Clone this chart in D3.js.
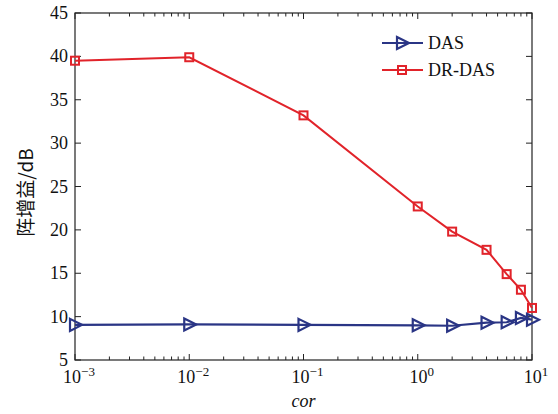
<!DOCTYPE html>
<html>
<head>
<meta charset="utf-8"/>
<script src="https://d3js.org/d3.v7.min.js"></script>
<style>
	body { margin: 0; background: #fff; }
	svg text { font-family: 'Liberation Serif', 'DejaVu Serif', serif; fill: #111; }
</style>
</head>
<body>
<svg id="chart" width="558" height="414"></svg>
<script>
// cor values (log axis)
var cor = [0.001, 0.01, 0.1, 1, 2, 4, 6, 8, 10];
// array gain, dB
var das = [9.05, 9.1, 9.05, 9.0, 8.95, 9.3, 9.35, 9.85, 9.65];
var drdas = [39.5, 39.9, 33.2, 22.7, 19.8, 17.7, 14.9, 13.1, 11.0];
var yTicks = [5, 10, 15, 20, 25, 30, 35, 40, 45];
var xTicks = [1e-3, 1e-2, 1e-1, 1, 10];
var xExp = ['\u22123', '\u22122', '\u22121', '0', '1'];

var m = {left: 75, right: 26, top: 13, bottom: 54};
var W = 558, H = 414;
var svg = d3.select('#chart');

var x = d3.scaleLog().domain([1e-3, 10]).range([m.left, W - m.right]);
var y = d3.scaleLinear().domain([5, 45]).range([H - m.bottom, m.top]);

var blue = '#2a3585', red = '#e1232a';

// frame
var g = svg.append('g');
g.append('rect')
	.attr('x', m.left).attr('y', m.top)
	.attr('width', W - m.left - m.right).attr('height', H - m.top - m.bottom)
	.attr('fill', 'none').attr('stroke', '#222').attr('stroke-width', 1.2);

// x ticks: major + minor on bottom and top, pointing in
var minor = [];
for (var e = -3; e < 1; e++) for (var k = 2; k < 10; k++) minor.push(k * Math.pow(10, e));
function xt(vals, len) {
	vals.forEach(function(v) {
		g.append('line').attr('x1', x(v)).attr('x2', x(v))
			.attr('y1', y(5)).attr('y2', y(5) - len).attr('stroke', '#222');
		g.append('line').attr('x1', x(v)).attr('x2', x(v))
			.attr('y1', y(45)).attr('y2', y(45) + len).attr('stroke', '#222');
	});
}
xt(xTicks, 6);
xt(minor, 3.5);
yTicks.forEach(function(v) {
	g.append('line').attr('x1', x(1e-3)).attr('x2', x(1e-3) + 6)
		.attr('y1', y(v)).attr('y2', y(v)).attr('stroke', '#222');
	g.append('line').attr('x1', x(10)).attr('x2', x(10) - 6)
		.attr('y1', y(v)).attr('y2', y(v)).attr('stroke', '#222');
});

// tick labels
yTicks.forEach(function(v) {
	svg.append('text').attr('x', m.left - 7).attr('y', y(v) + 6)
		.attr('text-anchor', 'end').attr('font-size', 18).text(v);
});
xTicks.forEach(function(v, i) {
	var t = svg.append('text').attr('x', x(v) + 4).attr('y', y(5) + 23)
		.attr('text-anchor', 'middle').attr('font-size', 18);
	t.append('tspan').text('10');
	t.append('tspan').attr('dy', -7).attr('font-size', 13).text(xExp[i]);
});

// axis titles
svg.append('text').attr('x', (m.left + W - m.right) / 2).attr('y', 407)
	.attr('text-anchor', 'middle').attr('font-size', 18).attr('font-style', 'italic').text('cor');
svg.append('text')
	.attr('transform', 'translate(33,' + ((m.top + H - m.bottom) / 2 + 6) + ') rotate(-90)')
	.attr('text-anchor', 'middle').attr('font-size', 19)
	.style('font-family', "'Noto Sans CJK SC', 'Liberation Serif', serif")
	.text('阵增益/dB');

var line = d3.line().x(function(d, i) { return x(cor[i]); }).y(function(d) { return y(d); });

function tri(sel, cx, cy) {
	sel.append('path')
		.attr('d', 'M' + (cx - 5) + ',' + (cy - 6) + 'L' + (cx + 7) + ',' + cy + 'L' + (cx - 5) + ',' + (cy + 6) + 'Z')
		.attr('fill', 'none').attr('stroke', blue).attr('stroke-width', 2.2);
}
function sq(sel, cx, cy) {
	sel.append('rect').attr('x', cx - 4).attr('y', cy - 4).attr('width', 8).attr('height', 8)
		.attr('fill', 'none').attr('stroke', red).attr('stroke-width', 2);
}

var plot = svg.append('g');
plot.append('path').attr('d', line(drdas)).attr('fill', 'none').attr('stroke', red).attr('stroke-width', 2);
drdas.forEach(function(v, i) { sq(plot, x(cor[i]), y(v)); });
plot.append('path').attr('d', line(das)).attr('fill', 'none').attr('stroke', blue).attr('stroke-width', 2.2);
das.forEach(function(v, i) { tri(plot, x(cor[i]), y(v)); });

// legend
var lg = svg.append('g');
lg.append('line').attr('x1', 382).attr('x2', 423).attr('y1', 43).attr('y2', 43)
	.attr('stroke', blue).attr('stroke-width', 2.2);
tri(lg, 402, 43);
lg.append('text').attr('x', 428).attr('y', 49).attr('font-size', 18).text('DAS');
lg.append('line').attr('x1', 382).attr('x2', 423).attr('y1', 70).attr('y2', 70)
	.attr('stroke', red).attr('stroke-width', 2);
sq(lg, 402, 70);
lg.append('text').attr('x', 428).attr('y', 76).attr('font-size', 18).text('DR-DAS');
</script>
</body>
</html>
